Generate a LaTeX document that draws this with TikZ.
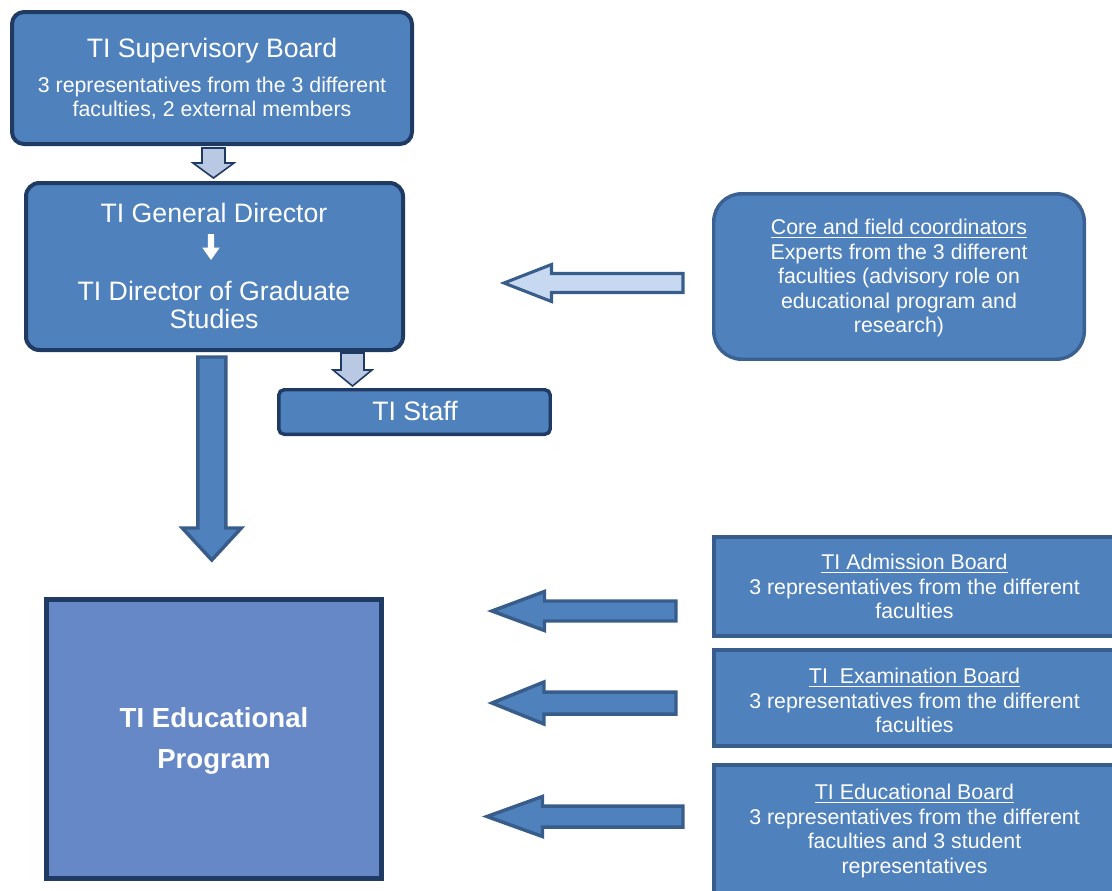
\documentclass[tikz,border=0pt]{standalone}
\usepackage{fontspec}
\setmainfont{Liberation Sans}
\usetikzlibrary{calc}
\definecolor{boxblue}{HTML}{4F81BD}
\definecolor{navy}{HTML}{1F3A63}
\definecolor{midnavy}{HTML}{385D8A}
\definecolor{corenavy}{HTML}{3B6092}
\definecolor{edfill}{HTML}{6688C6}
\definecolor{pale}{HTML}{B9C9E3}
\definecolor{paler}{HTML}{C6D9F1}
\newcommand\myul[1]{\setbox0\hbox{#1}\rlap{\rule[-2.4pt]{\wd0}{0.9pt}}\box0}
% down block arrow: style, start, tip, shaft half, head half, head length (px)
\newcommand\downblock[6]{\draw[#1] let \p1=(#2), \p2=(#3) in
  (\x1-#4*0.75pt,\y1) -- (\x1+#4*0.75pt,\y1) -- (\x1+#4*0.75pt,\y2+#6*0.75pt)
  -- (\x1+#5*0.75pt,\y2+#6*0.75pt) -- (\x1,\y2) -- (\x1-#5*0.75pt,\y2+#6*0.75pt)
  -- (\x1-#4*0.75pt,\y2+#6*0.75pt) -- cycle;}
% left block arrow: style, tail, tip, shaft half, head half, head length (px)
\newcommand\leftblock[6]{\draw[#1] let \p1=(#2), \p2=(#3) in
  (\x1,\y1+#4*0.75pt) -- (\x2+#6*0.75pt,\y1+#4*0.75pt) -- (\x2+#6*0.75pt,\y1+#5*0.75pt)
  -- (\x2,\y1) -- (\x2+#6*0.75pt,\y1-#5*0.75pt) -- (\x2+#6*0.75pt,\y1-#4*0.75pt)
  -- (\x1,\y1-#4*0.75pt) -- cycle;}
\begin{document}
\begin{tikzpicture}[x=0.75pt,y=-0.75pt,
  every node/.style={inner sep=0pt,outer sep=0pt,text=white},
  darkbox/.style={draw=navy,line width=3pt,fill=boxblue,rounded corners=9pt},
  corebox/.style={draw=corenavy,line width=2.6pt,fill=boxblue,rounded corners=21pt},
  boardbox/.style={draw=midnavy,line width=3pt,fill=boxblue},
  edbox/.style={draw=navy,line width=3.75pt,fill=edfill},
  titlefont/.style={font=\fontsize{20}{24}\selectfont},
  subfont/.style={font=\fontsize{16}{18.4}\selectfont,align=center},
  palearrow/.style={draw=navy,line width=1.2pt,fill=pale},
  corearrow/.style={draw=midnavy,line width=2.3pt,fill=paler},
  bluearrow/.style={draw=midnavy,line width=2.6pt,fill=boxblue}]
\useasboundingbox (0,0) rectangle (1112,890);
\clip (0,0) rectangle (1112,890);

% boxes
\node[darkbox,minimum width=300pt,minimum height=99pt] (sup) at (212,78) {};
\node[darkbox,rounded corners=10pt,minimum width=282.75pt,minimum height=125.25pt] (gd) at (214.5,266.5) {};
\node[darkbox,line width=2.6pt,rounded corners=4pt,minimum width=203.6pt,minimum height=33.4pt] (staff) at (414.5,412) {};
\node[corebox,minimum width=277.9pt,minimum height=124.1pt] (core) at (899,276.5) {};
\node[boardbox,minimum width=310.5pt,minimum height=74.25pt] (adm) at (921,586.5) {};
\node[boardbox,minimum width=310.5pt,minimum height=72pt] (exam) at (921,698) {};
\node[boardbox,minimum width=310.5pt,minimum height=107.25pt] (edu) at (921,836.5) {};
\node[edbox,minimum width=251.25pt,minimum height=209.25pt] (ed) at (214,739) {};

% texts
\node[titlefont,anchor=base] (supT) at (212,57.6) {TI Supervisory Board};
\node[font=\fontsize{16}{16.3}\selectfont,align=center,anchor=north] (supS) at (212,77.3)
  {\strut 3 representatives from the 3 different\\faculties, 2 external members};
\node[titlefont,anchor=base] (gdT) at (214,222.6) {TI General Director};
\node[font=\fontsize{20}{19.2}\selectfont,align=center,anchor=north] (gdS) at (214,281.2)
  {\strut TI Director of Graduate\\Studies};
\node[titlefont,anchor=base] (staffT) at (415,420.4) {TI Staff};
\node[subfont,anchor=north] (coreT) at (899,217.5)
  {\strut\myul{Core and field coordinators}\\Experts from the 3 different\\faculties (advisory role on\\educational program and\\research)};
\node[subfont,anchor=north] (admT) at (914.5,552.5)
  {\strut\myul{TI Admission Board}\\3 representatives from the different\\faculties};
\node[subfont,anchor=north] (examT) at (914.5,666.5)
  {\strut\myul{TI\ \ Examination Board}\\3 representatives from the different\\faculties};
\node[subfont,anchor=north] (eduT) at (914.5,782.5)
  {\strut\myul{TI Educational Board}\\3 representatives from the different\\faculties and 3 student\\representatives};
\node[font=\bfseries\fontsize{20.7}{30.75}\selectfont,align=center,anchor=north] (edT) at (214,699.2)
  {\strut TI Educational\\Program};

% white arrow inside general director box
\coordinate (wa1) at (211,234);
\coordinate (wa2) at (211,260);
\downblock{fill=white,draw=none}{wa1}{wa2}{3.2}{8.8}{12.5}

% block arrows
\coordinate (a1s) at (213.5,148); \coordinate (a1e) at (213.5,178);
\downblock{palearrow}{a1s}{a1e}{11.5}{20.5}{15}
\coordinate (a2s) at (352.5,353); \coordinate (a2e) at (352.5,386);
\downblock{palearrow}{a2s}{a2e}{11.5}{19.5}{16}
\coordinate (a3s) at (211.8,357); \coordinate (a3e) at (211.8,560);
\downblock{bluearrow}{a3s}{a3e}{14}{29.5}{32}
\coordinate (a4s) at (683,283); \coordinate (a4e) at (504,283);
\leftblock{corearrow}{a4s}{a4e}{9.5}{18.5}{47.5}
\coordinate (a5s) at (676,611); \coordinate (a5e) at (492,611);
\leftblock{bluearrow}{a5s}{a5e}{10}{19.5}{52.5}
\coordinate (a6s) at (676,703); \coordinate (a6e) at (492,703);
\leftblock{bluearrow}{a6s}{a6e}{11}{21}{52}
\coordinate (a7s) at (683,816.5); \coordinate (a7e) at (487,816.5);
\leftblock{bluearrow}{a7s}{a7e}{10.5}{20}{55.5}
\end{tikzpicture}
\end{document}
